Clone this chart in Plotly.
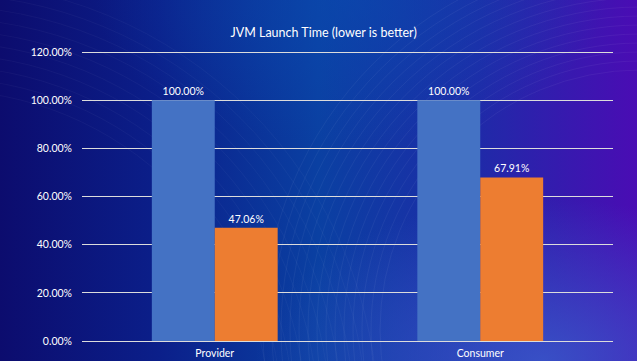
import base64
import plotly.graph_objects as go

categories = ["Provider", "Consumer"]
series_a = [1.0, 1.0]
series_b = [0.4706, 0.6791]
y_ticks = [0, 0.2, 0.4, 0.6, 0.8, 1.0, 1.2]
y_tick_labels = ["0.00%", "20.00%", "40.00%", "60.00%", "80.00%", "100.00%", "120.00%"]
title_text = "JVM Launch Time (lower is better)"

W, H = 637, 361

arcs = ""
for i in range(14):
    r = 260 + i * 9
    arcs += f'<circle cx="640" cy="330" r="{r}" fill="none" stroke="white" stroke-opacity="0.05" stroke-width="1"/>'
for i in range(10):
    r = 330 + i * 12
    arcs += f'<circle cx="-60" cy="420" r="{r}" fill="none" stroke="white" stroke-opacity="0.035" stroke-width="1"/>'

svg = f'''<svg xmlns="http://www.w3.org/2000/svg" width="{W}" height="{H}" viewBox="0 0 {W} {H}">
<defs>
<linearGradient id="g" x1="0" y1="0" x2="1" y2="0">
<stop offset="0" stop-color="#0c0c6e"/>
<stop offset="0.25" stop-color="#0b1f8a"/>
<stop offset="0.5" stop-color="#0a40a2"/>
<stop offset="0.75" stop-color="#1f2aa8"/>
<stop offset="1" stop-color="#4a0cb4"/>
</linearGradient>
<radialGradient id="r" cx="0.85" cy="1.0" r="0.45">
<stop offset="0" stop-color="#3a5ccc" stop-opacity="0.8"/>
<stop offset="1" stop-color="#3a5ccc" stop-opacity="0"/>
</radialGradient>
<radialGradient id="t" cx="0.55" cy="0.0" r="0.4">
<stop offset="0" stop-color="#0a4ab0" stop-opacity="0.6"/>
<stop offset="1" stop-color="#0a4ab0" stop-opacity="0"/>
</radialGradient>
</defs>
<rect width="{W}" height="{H}" fill="url(#g)"/>
<rect width="{W}" height="{H}" fill="url(#t)"/>
<rect width="{W}" height="{H}" fill="url(#r)"/>
{arcs}
</svg>'''
src = "data:image/svg+xml;base64," + base64.b64encode(svg.encode()).decode()

font = "Lato, 'Open Sans', sans-serif"

fig = go.Figure()
fig.add_trace(go.Bar(
    x=categories, y=series_a, marker_color="#4472C4", marker_line_width=0,
    text=[f"{v*100:.2f}%" for v in series_a], textposition="outside",
    textfont=dict(color="white", size=10.5, family=font), cliponaxis=False,
))
fig.add_trace(go.Bar(
    x=categories, y=series_b, marker_color="#ED7D31", marker_line_width=0,
    text=[f"{v*100:.2f}%" for v in series_b], textposition="outside",
    textfont=dict(color="white", size=10.5, family=font), cliponaxis=False,
))

px_per_unit = (341 - 52) / 1.2
y_lo, y_hi = -0.005, 1.21
bottom_px = 341 - y_lo * px_per_unit
top_px = 52 - (y_hi - 1.2) * px_per_unit

fig.update_layout(
    width=W, height=H,
    margin=dict(l=0, r=0, t=0, b=0, autoexpand=False),
    paper_bgcolor="#0c1a80",
    plot_bgcolor="rgba(0,0,0,0)",
    barmode="group", bargap=0.526, bargroupgap=0,
    showlegend=False,
    font=dict(family=font, color="white", size=10),
    title=dict(text=title_text, x=0.508, xanchor="center", y=1 - 33 / H, yanchor="middle",
               automargin=False, font=dict(size=12.5, color="white", family=font)),
    images=[dict(source=src, xref="paper", yref="paper", x=0, y=1, sizex=1, sizey=1,
                 xanchor="left", yanchor="top", sizing="stretch", layer="below")],
    xaxis=dict(domain=[82 / W, 613 / W], showgrid=False, zeroline=False, showline=False,
               automargin=False,
               ticks="", tickfont=dict(size=10.5, color="white", family=font), ticklabelstandoff=3),
    yaxis=dict(domain=[(H - bottom_px) / H, (H - top_px) / H], range=[y_lo, y_hi],
               tickvals=y_ticks, ticktext=y_tick_labels, automargin=False,
               showgrid=True, gridcolor="#dcdcdc", gridwidth=1,
               zeroline=False,
               showline=False, ticks="", ticklabelstandoff=9,
               tickfont=dict(size=10.5, color="white", family=font)),
)

fig.write_html(
    "out.html",
    config={"displayModeBar": False},
    post_script="document.body.style.margin='0';document.body.style.overflow='hidden';",
)
